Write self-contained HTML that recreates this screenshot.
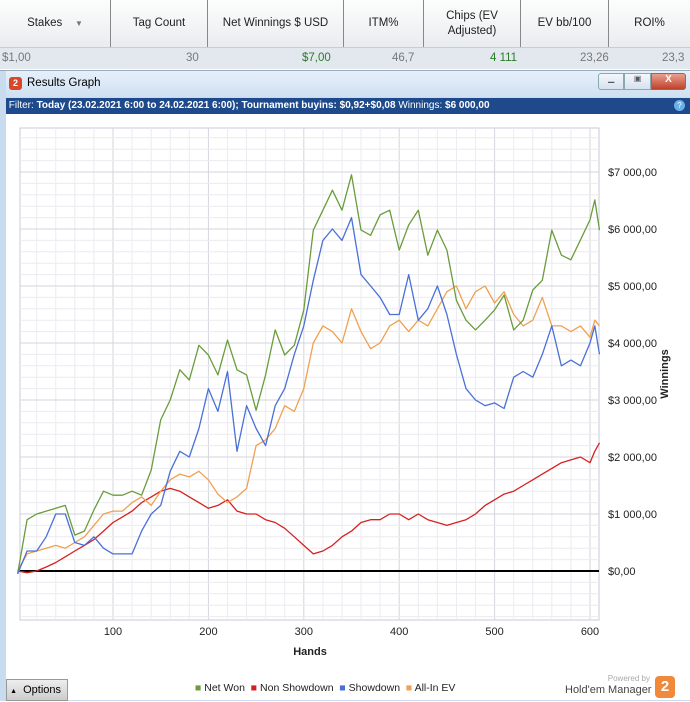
<!DOCTYPE html>
<html><head><meta charset="utf-8"><style>
body{margin:0;width:690px;height:700px;overflow:hidden;font-family:"Liberation Sans",sans-serif;background:#fff;position:relative}
.hd{position:absolute;top:0;left:0;width:690px;height:47px;background:linear-gradient(#fdfdfd,#e9ecef);border-bottom:1px solid #c8cdd3}
.hc{position:absolute;top:0;height:47px;display:flex;align-items:center;justify-content:center;font-size:11.5px;color:#222;text-align:center;border-right:1px solid #888;line-height:15px}
.row{position:absolute;top:48px;left:0;width:690px;height:21px;background:#e2e8ee;font-size:11.5px;color:#777}
.row span{position:absolute;top:4px}
.win{position:absolute;top:70px;left:0;width:690px;height:630px;background:#c9dcef;border-top:1px solid #9ab}
.tb{position:absolute;top:71px;left:6px;width:684px;height:26px;background:linear-gradient(#e6f0fa,#cfe0f2);font-size:11.5px}
.fb{position:absolute;top:98px;left:6px;width:684px;height:16px;background:#1e4a8c;color:#fff;font-size:10px;line-height:16px}
.pa{position:absolute;top:114px;left:6px;width:684px;height:586px;background:#fff}
</style></head><body>
<div class="hd">
<div class="hc" style="left:0;width:110px">Stakes &nbsp;&nbsp;&nbsp;<span style="font-size:8px;color:#777">▼</span></div>
<div class="hc" style="left:111px;width:96px">Tag Count</div>
<div class="hc" style="left:208px;width:135px">Net Winnings $ USD</div>
<div class="hc" style="left:344px;width:79px">ITM%</div>
<div class="hc" style="left:424px;width:96px">Chips (EV<br>Adjusted)</div>
<div class="hc" style="left:521px;width:87px">EV bb/100</div>
<div class="hc" style="left:609px;width:81px;border-right:none">ROI%</div>
</div>
<div class="row">
<span style="left:2px">$1,00</span><span style="left:186px">30</span><span style="left:302px;color:#2a7a2a">$7,00</span><span style="left:392px">46,7</span><span style="left:490px;color:#2a7a2a">4 111</span><span style="left:580px">23,26</span><span style="left:662px">23,3</span>
</div>
<div class="win"></div>
<div class="tb">
<span style="position:absolute;left:3px;top:6px;width:13px;height:13px;border-radius:3px;background:#d9472b;color:#fff;font-size:9px;text-align:center;line-height:13px;font-weight:bold">2</span>
<span style="position:absolute;left:21px;top:6px">Results Graph</span>
<div style="position:absolute;left:592px;top:2px;width:88px;height:17px;display:flex">
<div style="width:25px;background:linear-gradient(#f4f7fb,#d6e2ee);border:1px solid #8aa;border-radius:3px 0 0 3px;font-size:8px;text-align:center;color:#556">▁</div>
<div style="width:25px;background:linear-gradient(#f4f7fb,#d6e2ee);border:1px solid #8aa;font-size:8px;text-align:center;color:#556">▣</div>
<div style="width:34px;background:linear-gradient(#e8a090,#c0412a);border:1px solid #8a6a6a;border-radius:0 3px 3px 0;color:#fff;font-size:10px;text-align:center;font-weight:bold">X</div>
</div></div>
<div class="fb">&nbsp;Filter: <b>Today (23.02.2021 6:00 to 24.02.2021 6:00); Tournament buyins: $0,92+$0,08</b> Winnings: <b>$6 000,00</b>
<span style="position:absolute;right:5px;top:2px;width:11px;height:11px;border-radius:6px;background:#6ab0e8;font-size:8px;text-align:center;line-height:11px">?</span></div>
<div class="pa"></div>
<svg id="chart" width="690" height="700" style="position:absolute;top:0;left:0"></svg>
<div style="position:absolute;left:6px;top:679px;width:60px;height:20px;background:linear-gradient(#eee,#ccc);border:1px solid #999;font-size:11px;line-height:20px">&nbsp;<span style="font-size:7px">▲</span>&nbsp; Options</div>
<div style="position:absolute;left:195px;top:682px;font-size:10.5px;color:#222">
<span><span style="color:#6a9c3c">■</span> Net Won</span>&nbsp;
<span><span style="color:#d62020">■</span> Non Showdown</span>&nbsp;
<span><span style="color:#4a70d8">■</span> Showdown</span>&nbsp;
<span><span style="color:#f0a050">■</span> All-In EV</span></div>
<div style="position:absolute;left:565px;top:674px;font-size:8px;color:#aaa;width:85px;text-align:right">Powered by</div>
<div style="position:absolute;left:565px;top:684px;font-size:11px;color:#444">Hold'em Manager</div>
<div style="position:absolute;left:655px;top:676px;width:20px;height:22px;background:#f08a3a;border-radius:4px;color:#fff;font-weight:bold;font-size:15px;text-align:center;line-height:22px">2</div>
<script>
const hands=[0,10,20,30,40,50,60,70,80,90,100,110,120,130,140,150,160,170,180,190,200,210,220,230,240,250,260,270,280,290,300,310,320,330,340,350,360,370,380,390,400,410,420,430,440,450,460,470,480,490,500,510,520,530,540,550,560,570,580,590,600,605,610];
const netWon=[-50,900,1000,1050,1100,1150,630,700,1070,1400,1330,1330,1400,1330,1770,2650,3000,3530,3350,3960,3790,3440,4050,3530,3440,2820,3440,4230,3790,3960,4580,5980,6330,6680,6330,6950,5980,5890,6250,6330,5630,6070,6330,5540,5980,5630,4750,4400,4230,4400,4580,4840,4230,4400,4930,5100,5980,5540,5460,5810,6160,6510,5980];
const nonShowdown=[0,-30,0,70,150,250,350,450,550,700,850,950,1050,1200,1300,1400,1450,1400,1300,1200,1100,1150,1250,1050,1000,1000,900,850,750,600,450,300,350,450,600,700,850,900,900,1000,1000,900,1000,900,850,800,850,900,1000,1150,1250,1350,1400,1500,1600,1700,1800,1900,1950,2000,1900,2100,2250];
const showdown=[-50,350,350,600,1000,1000,500,450,600,400,300,300,300,700,1000,1150,1750,2100,2000,2500,3200,2800,3500,2100,2900,2500,2200,2900,3200,3800,4300,5100,5800,6000,5800,6200,5200,5000,4800,4500,4500,5200,4400,4600,5000,4500,3800,3200,3000,2900,2950,2850,3400,3500,3400,3800,4300,3600,3700,3600,4000,4300,3800];
const allInEV=[0,300,350,400,450,400,500,600,800,1000,1050,1050,1200,1300,1150,1400,1600,1700,1650,1750,1600,1350,1200,1300,1450,2200,2300,2500,2900,2800,3200,4000,4300,4200,4000,4600,4200,3900,4000,4300,4400,4200,4400,4300,4600,4900,5000,4600,4900,5000,4700,4900,4500,4300,4400,4800,4300,4300,4200,4300,4100,4400,4300];
const xTicks=[100,200,300,400,500,600];
const yTicks=[0,1000,2000,3000,4000,5000,6000,7000];
const yLabels=["$0,00","$1 000,00","$2 000,00","$3 000,00","$4 000,00","$5 000,00","$6 000,00","$7 000,00"];
const NS="http://www.w3.org/2000/svg";
const svg=document.getElementById('chart');
const L=20,R=599,T=128,B=620;
const X=h=>17.6+0.954*h;
const Y=v=>571-v*0.057;
function mk(t,a){const e=document.createElementNS(NS,t);for(const k in a)e.setAttribute(k,a[k]);svg.appendChild(e);return e;}
const pb=mk('rect',{x:L,y:T,width:R-L,height:B-T,fill:'#fff',stroke:'#c8c8d8'});


for(let h=0;h<=620;h+=20){const x=X(h);if(x<L||x>R)continue;const g=mk('line',{x1:x,x2:x,y1:T,y2:B,stroke:h%100==0?'#d4d6de':'#ebecf1','stroke-width':1});

}
for(let v=-800;v<=7600;v+=200){const y=Y(v);if(y<T||y>B)continue;const g=mk('line',{x1:L,x2:R,y1:y,y2:y,stroke:v%1000==0?'#d4d6de':'#ebecf1','stroke-width':1});

}
const z=mk('line',{x1:L,x2:R,y1:Y(0),y2:Y(0),stroke:'#000','stroke-width':2});


xTicks.forEach(h=>{const t=mk('text',{x:X(h),y:635,'font-size':11,'text-anchor':'middle',fill:'#222'});t.textContent=h;

});
yTicks.forEach((v,i)=>{const t=mk('text',{x:608,y:Y(v)+4,'font-size':11,fill:'#222'});t.textContent=yLabels[i];

});
const xt=mk('text',{x:310,y:655,'font-size':11,'font-weight':'bold','text-anchor':'middle',fill:'#222'});xt.textContent='Hands';


const yt=mk('text',{x:668,y:374,'font-size':11,'font-weight':'bold','text-anchor':'middle',fill:'#222',transform:'rotate(-90 668 374)'});yt.textContent='Winnings';


function series(vals,color,name){const d=vals.map((v,i)=>(i?'L':'M')+X(hands[i]).toFixed(1)+','+Y(v).toFixed(1)).join('');
const p=mk('path',{d:d,fill:'none',stroke:color,'stroke-width':1.3,'stroke-linejoin':'round'});

}
series(nonShowdown,'#d62020','non-showdown-line');
series(allInEV,'#f0a050','all-in-ev-line');
series(netWon,'#6a9c3c','net-won-line');
series(showdown,'#4a70d8','showdown-line');
</script>
</body></html>
